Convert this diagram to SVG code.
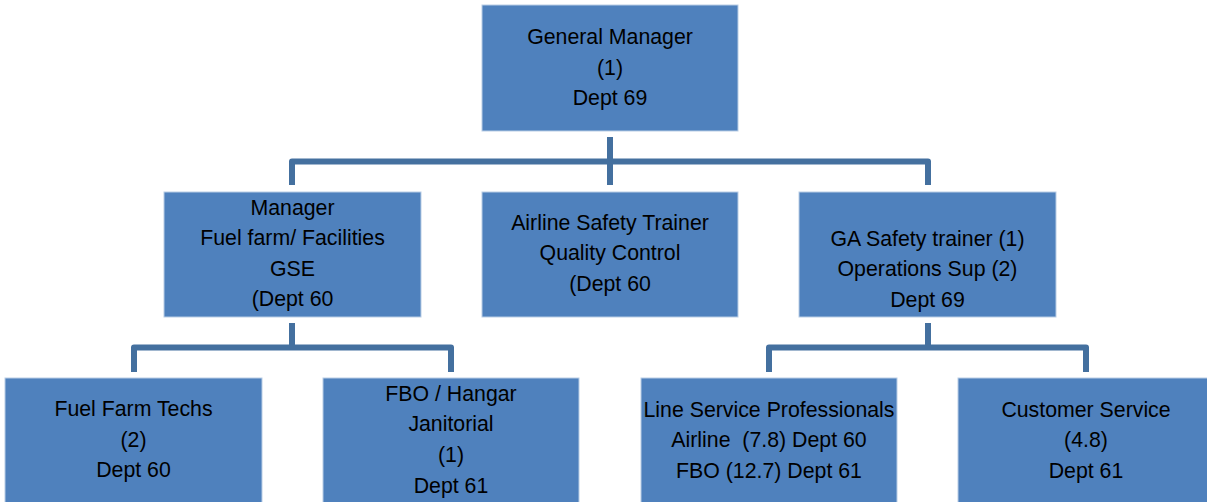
<svg xmlns="http://www.w3.org/2000/svg" width="1207" height="502" viewBox="0 0 1207 502">
<style>
.box{fill:#4F81BD;stroke:#B9CDE5;stroke-width:1}
.t{font-family:"Liberation Sans",Arial,sans-serif;font-size:21.3px;fill:#000;text-anchor:middle}
.c{fill:none;stroke:#44709F;stroke-width:6;stroke-linejoin:round}
</style>
<rect width="1207" height="502" fill="#fff"/>
<g id="connectors">
<path class="c" d="M610,137 V185"/>
<path class="c" d="M292,185 V161.5 H928 V185"/>
<path class="c" d="M292,323 V347.5"/>
<path class="c" d="M134,372 V347.5 H451 V372"/>
<path class="c" d="M928,323 V347.5"/>
<path class="c" d="M769,372 V347.5 H1086 V372"/>
</g>
<g id="general-manager">
<rect class="box" x="482" y="5" width="256" height="126"/>
<text class="t" x="610" y="44">General Manager</text>
<text class="t" x="610" y="75">(1)</text>
<text class="t" x="610" y="105">Dept 69</text>
</g>
<g id="manager-fuel-farm">
<rect class="box" x="164" y="192" width="257" height="125"/>
<text class="t" x="292.5" y="215">Manager</text>
<text class="t" x="292.5" y="245">Fuel farm/ Facilities</text>
<text class="t" x="292.5" y="276">GSE</text>
<text class="t" x="292.5" y="306">(Dept 60</text>
</g>
<g id="airline-safety-trainer">
<rect class="box" x="482" y="192" width="256" height="125"/>
<text class="t" x="610" y="230">Airline Safety Trainer</text>
<text class="t" x="610" y="260">Quality Control</text>
<text class="t" x="610" y="291">(Dept 60</text>
</g>
<g id="ga-safety-trainer">
<rect class="box" x="799" y="192" width="257" height="125"/>
<text class="t" x="927.5" y="246">GA Safety trainer (1)</text>
<text class="t" x="927.5" y="276">Operations Sup (2)</text>
<text class="t" x="927.5" y="307">Dept 69</text>
</g>
<g id="fuel-farm-techs">
<rect class="box" x="5" y="378" width="257" height="130"/>
<text class="t" x="133.5" y="416">Fuel Farm Techs</text>
<text class="t" x="133.5" y="446.5">(2)</text>
<text class="t" x="133.5" y="477">Dept 60</text>
</g>
<g id="fbo-hangar-janitorial">
<rect class="box" x="323" y="378" width="256" height="130"/>
<text class="t" x="451" y="401">FBO / Hangar</text>
<text class="t" x="451" y="431">Janitorial</text>
<text class="t" x="451" y="462">(1)</text>
<text class="t" x="451" y="492.5">Dept 61</text>
</g>
<g id="line-service-professionals">
<rect class="box" x="641" y="378" width="256" height="130"/>
<text class="t" x="769" y="417">Line Service Professionals</text>
<text class="t" x="769" y="447" xml:space="preserve">Airline  (7.8) Dept 60</text>
<text class="t" x="769" y="478">FBO (12.7) Dept 61</text>
</g>
<g id="customer-service">
<rect class="box" x="958" y="378" width="256" height="130"/>
<text class="t" x="1086" y="417">Customer Service</text>
<text class="t" x="1086" y="447">(4.8)</text>
<text class="t" x="1086" y="478">Dept 61</text>
</g>
</svg>
